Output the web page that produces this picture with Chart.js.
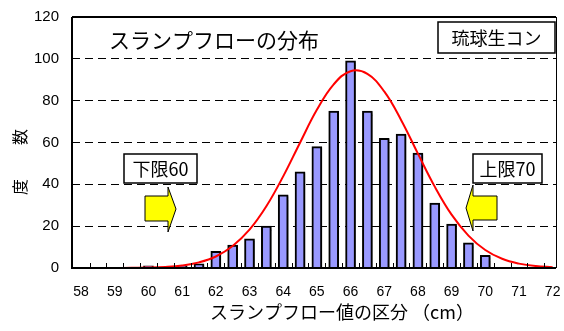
<!DOCTYPE html>
<html><head><meta charset="utf-8">
<script src="https://cdn.jsdelivr.net/npm/chart.js@4/dist/chart.umd.min.js"></script>
<style>html,body{margin:0;padding:0;background:#fff;}#wrap{width:564px;height:331px;}</style>
</head><body><div id="wrap"><canvas id="c" width="564" height="331"></canvas></div>
<script>
// ---- data ----
const sizeClasses = [58,58.5,59,59.5,60,60.5,61,61.5,62,62.5,63,63.5,64,64.5,65,65.5,66,66.5,67,67.5,68,68.5,69,69.5,70,70.5,71,71.5,72];
const frequencies = [0,0,0,0,1,0,1,2,8,11,14,20,35,46,58,75,99,75,62,64,55,31,21,12,6,0,0,0,0];
const normalCurve = [0.0,0.0,0.0,0.1,0.2,0.5,1.2,2.7,5.5,10.5,18.3,29.5,43.8,59.9,75.6,87.8,94.1,92.8,84.4,70.8,54.7,38.9,25.5,15.5,8.6,4.4,2.1,0.9,0.4];
const xTickLabels = [58,59,60,61,62,63,64,65,66,67,68,69,70,71,72];
const yTickValues = [0,20,40,60,80,100,120];
const chartTitle = 'スランプフローの分布';
const xAxisTitle = 'スランプフロー値の区分 （cm）';
const yAxisChars = ['度','数'];
const sourceLabel = '琉球生コン';
const lowerLimitLabel = '下限60';
const upperLimitLabel = '上限70';

const JP = '"Noto Sans CJK JP", "Noto Sans", sans-serif';
const NUM = '"Liberation Sans", Arial, sans-serif';

function zeroPad(scale) {
  scale.paddingTop = 0; scale.paddingBottom = 0; scale.paddingLeft = 0; scale.paddingRight = 0;
}

const decorPlugin = {
  id: 'decor',
  beforeDatasetDraw(chart, args) {
    if (args.index === 0) {
      const ctx = chart.ctx;
      ctx.save();
      ctx.shadowColor = 'rgba(0,0,0,0.35)';
      ctx.shadowOffsetX = 2; ctx.shadowOffsetY = 1; ctx.shadowBlur = 1;
    }
  },
  afterDatasetDraw(chart, args) {
    if (args.index === 0) chart.ctx.restore();
  },
  afterDraw(chart) {
    const ctx = chart.ctx, ca = chart.chartArea, xs = chart.scales.x;
    ctx.save();
    // frame
    ctx.strokeStyle = '#000';
    ctx.lineWidth = 2;
    ctx.beginPath(); ctx.moveTo(ca.left, ca.top); ctx.lineTo(ca.right, ca.top); ctx.stroke();
    ctx.beginPath(); ctx.moveTo(ca.left, ca.top); ctx.lineTo(ca.left, ca.bottom + 1); ctx.stroke();
    ctx.beginPath(); ctx.moveTo(ca.left, ca.bottom); ctx.lineTo(ca.right, ca.bottom); ctx.stroke();
    ctx.lineWidth = 1;
    ctx.beginPath(); ctx.moveTo(ca.right + 0.5, ca.top); ctx.lineTo(ca.right + 0.5, ca.bottom); ctx.stroke();
    // inner tick marks at class boundaries
    for (let i = 0; i < sizeClasses.length - 1; i++) {
      const px = Math.round(xs.getPixelForValue((sizeClasses[i] + sizeClasses[i + 1]) / 2)) + 0.5;
      ctx.beginPath(); ctx.moveTo(px, ca.bottom); ctx.lineTo(px, ca.bottom - 5); ctx.stroke();
    }
    // chart title
    ctx.fillStyle = '#000';
    ctx.textBaseline = 'middle';
    ctx.textAlign = 'left';
    ctx.font = '21px ' + JP;
    ctx.fillText(chartTitle, 109, 40);
    // x axis title
    ctx.font = '18px ' + JP;
    ctx.fillText(xAxisTitle, 210, 312);
    // y axis title (rotated)
    ctx.font = '16px ' + JP;
    ctx.textAlign = 'center';
    [[yAxisChars[0], 187], [yAxisChars[1], 137]].forEach(([ch, y]) => {
      ctx.save(); ctx.translate(20, y); ctx.rotate(-Math.PI / 2); ctx.fillText(ch, 0, 0); ctx.restore();
    });
    // label boxes
    function box(x1, y1, x2, y2, text, fs) {
      ctx.fillStyle = '#fff';
      ctx.fillRect(x1, y1, x2 - x1, y2 - y1);
      ctx.strokeStyle = '#000'; ctx.lineWidth = 1.5;
      ctx.strokeRect(x1, y1, x2 - x1, y2 - y1);
      ctx.fillStyle = '#000'; ctx.font = fs + 'px ' + JP;
      ctx.textAlign = 'center'; ctx.textBaseline = 'middle';
      ctx.fillText(text, (x1 + x2) / 2, (y1 + y2) / 2 + 1);
    }
    box(438, 22, 555, 53, sourceLabel, 18);
    box(124, 154, 197, 183, lowerLimitLabel, 18);
    box(473, 154, 542, 183, upperLimitLabel, 18);
    // arrows
    function poly(pts) {
      ctx.beginPath(); ctx.moveTo(pts[0][0], pts[0][1]);
      for (let i = 1; i < pts.length; i++) ctx.lineTo(pts[i][0], pts[i][1]);
      ctx.closePath();
      ctx.fillStyle = '#FFFF00'; ctx.fill();
      ctx.strokeStyle = '#000'; ctx.lineWidth = 1; ctx.stroke();
    }
    poly([[145,196],[168,196],[168,187],[176,209],[168,232],[168,221],[145,221]]);
    poly([[497,196],[473,196],[473,185],[466,208],[473,231],[473,220],[497,220]]);
    ctx.restore();
  }
};

new Chart(document.getElementById('c'), {
  type: 'bar',
  data: {
    datasets: [
      {
        type: 'bar',
        data: sizeClasses.map((x, i) => ({ x: x, y: frequencies[i] })),
        backgroundColor: '#9999FF',
        borderColor: '#000',
        borderWidth: 2,
        borderSkipped: 'start',
        barThickness: 10,
        order: 2
      },
      {
        type: 'line',
        data: sizeClasses.map((x, i) => ({ x: x, y: normalCurve[i] })),
        borderColor: '#FF0000',
        borderWidth: 2,
        pointRadius: 0,
        tension: 0.4,
        fill: false,
        order: 1
      }
    ]
  },
  options: {
    responsive: false,
    animation: false,
    layout: { autoPadding: false, padding: { left: 0, right: 8, top: 17, bottom: 0 } },
    plugins: { legend: { display: false }, tooltip: { enabled: false } },
    scales: {
      x: {
        type: 'linear',
        offset: false,
        min: 57.73,
        max: 72.1,
        afterBuildTicks(scale) { scale.ticks = xTickLabels.map(v => ({ value: v })); },
        afterFit(scale) { scale.height = 63; zeroPad(scale); },
        grid: { display: false, drawTicks: false },
        border: { display: false },
        ticks: { color: '#000', font: { family: NUM, size: 14 }, padding: 16, maxRotation: 0, autoSkip: false }
      },
      y: {
        min: 0, max: 120,
        afterBuildTicks(scale) { scale.ticks = yTickValues.map(v => ({ value: v })); },
        afterFit(scale) { scale.width = 72; zeroPad(scale); },
        grid: {
          drawTicks: false,
          color: c => (c.tick && (c.tick.value === 0 || c.tick.value === 120)) ? 'rgba(0,0,0,0)' : '#000',
          lineWidth: 1
        },
        border: { display: false, dash: [8, 5] },
        ticks: { color: '#000', font: { family: NUM, size: 15 }, padding: 13 }
      }
    }
  },
  plugins: [decorPlugin]
});
</script>
</body></html>
